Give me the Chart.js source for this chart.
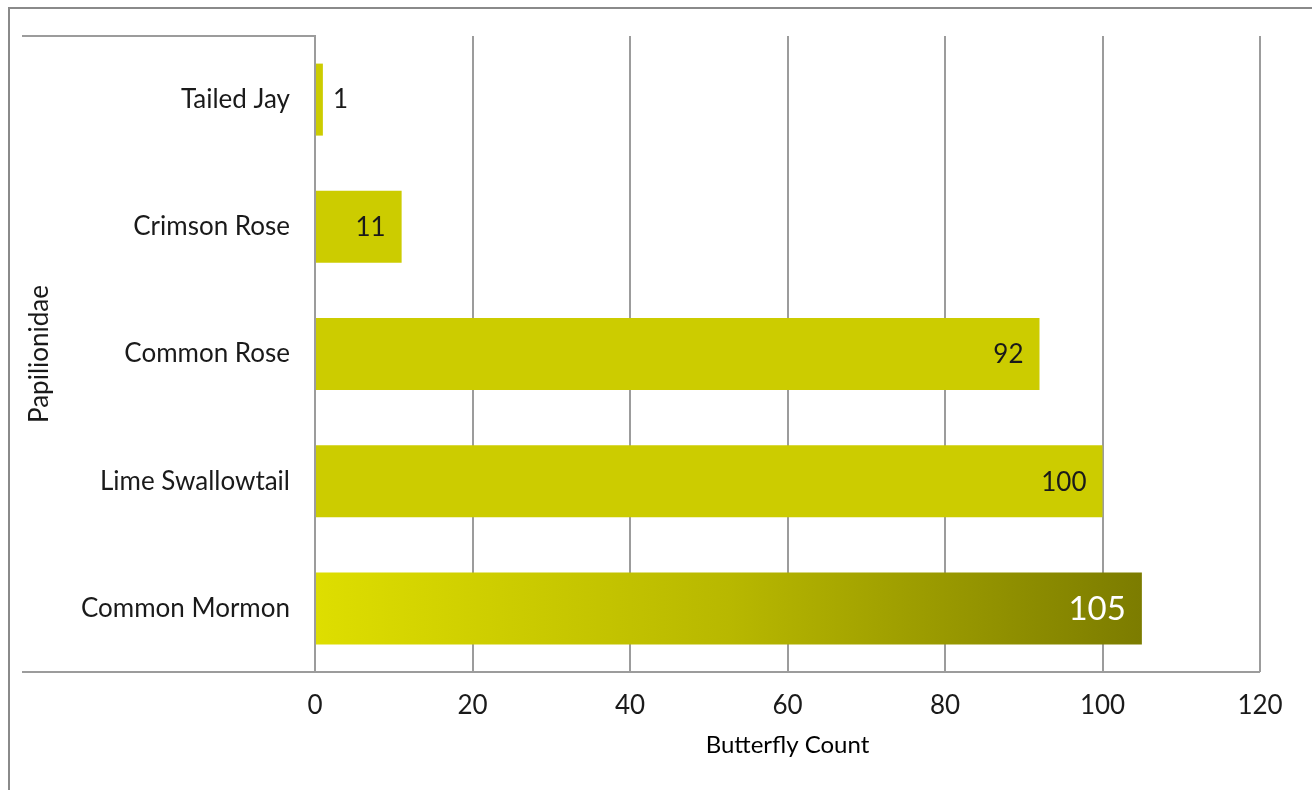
<!DOCTYPE html>
<html>
<head>
<meta charset="utf-8">
<script src="https://cdn.jsdelivr.net/npm/chart.js@4.4.1/dist/chart.umd.min.js"></script>
<style>
  html, body { margin: 0; padding: 0; background: #fff; }
  #wrap { width: 1312px; height: 790px; position: relative; }
</style>
</head>
<body>
<div id="wrap"><canvas id="papilionidae"></canvas></div>
<script>
  // data
  var species = ['Tailed Jay', 'Crimson Rose', 'Common Rose', 'Lime Swallowtail', 'Common Mormon'];
  var counts = [1, 11, 92, 100, 105];
  var countTicks = [0, 20, 40, 60, 80, 100, 120];

  var barColor = '#cccc00';
  var lineColor = '#9c9c9c';
  var fontFamily = 'Lato, "Open Sans", sans-serif';

  function barFill(ctx) {
    var chart = ctx.chart;
    if (ctx.dataIndex !== counts.length - 1 || !chart.chartArea) { return barColor; }
    var x = chart.scales.x;
    var g = chart.ctx.createLinearGradient(x.getPixelForValue(0), 0, x.getPixelForValue(counts[ctx.dataIndex]), 0);
    g.addColorStop(0, '#dede00');
    g.addColorStop(0.5, '#b8b800');
    g.addColorStop(1, '#7c7c00');
    return g;
  }

  // outer frame + extended category axis lines
  var framePlugin = {
    id: 'frame',
    beforeDraw: function (chart) {
      var c = chart.ctx, a = chart.chartArea;
      c.save();
      c.strokeStyle = '#8a8a8a';
      c.lineWidth = 2;
      c.beginPath();
      c.moveTo(9, chart.height);
      c.lineTo(9, 8);
      c.lineTo(chart.width, 8);
      c.stroke();
      c.strokeStyle = lineColor;
      c.beginPath();
      c.moveTo(22, a.top);
      c.lineTo(a.left, a.top);
      c.moveTo(22, a.bottom);
      c.lineTo(a.right, a.bottom);
      c.stroke();
      c.restore();
    }
  };

  // value labels at the bar ends
  var labelPlugin = {
    id: 'barLabels',
    afterDatasetsDraw: function (chart) {
      var c = chart.ctx;
      var meta = chart.getDatasetMeta(0);
      c.save();
      c.textBaseline = 'middle';
      meta.data.forEach(function (bar, i) {
        var v = counts[i];
        var last = i === counts.length - 1;
        c.font = (last ? 33 : 26) + 'px ' + fontFamily;
        c.fillStyle = last ? '#ffffff' : '#1a1a1a';
        if (v < 5) {
          c.textAlign = 'left';
          c.fillText(String(v), bar.x + 10, bar.y);
        } else {
          c.textAlign = 'right';
          c.fillText(String(v), bar.x - 16, bar.y + 1);
        }
      });
      c.restore();
    }
  };

  new Chart(document.getElementById('papilionidae'), {
    type: 'bar',
    data: {
      labels: species,
      datasets: [{
        data: counts,
        backgroundColor: barFill,
        borderWidth: 0,
        barPercentage: 0.566,
        categoryPercentage: 1
      }]
    },
    options: {
      indexAxis: 'y',
      responsive: true,
      maintainAspectRatio: false,
      animation: false,
      layout: { padding: { top: 36, right: 52, left: 0, bottom: 0 } },
      scales: {
        x: {
          min: 0,
          max: 120,
          afterBuildTicks: function (scale) {
            scale.ticks = countTicks.map(function (v) { return { value: v }; });
          },
          afterFit: function (scale) { scale.height = 118; },
          grid: { color: lineColor, lineWidth: 2, drawTicks: false },
          border: { display: false },
          ticks: {
            padding: 18,
            color: '#1a1a1a',
            font: { family: fontFamily, size: 26 }
          },
          title: {
            display: true,
            text: 'Butterfly Count',
            color: '#000',
            padding: { top: 0, bottom: 30 },
            font: { family: fontFamily, size: 24 }
          }
        },
        y: {
          afterFit: function (scale) { scale.width = 315; },
          grid: { display: false },
          border: { display: true, color: lineColor, width: 2 },
          ticks: {
            padding: 17,
            color: '#1a1a1a',
            font: { family: fontFamily, size: 26 }
          },
          title: {
            display: true,
            text: 'Papilionidae',
            color: '#1a1a1a',
            padding: { top: 24, bottom: 0 },
            font: { family: fontFamily, size: 26 }
          }
        }
      },
      plugins: {
        legend: { display: false },
        tooltip: { enabled: false }
      }
    },
    plugins: [framePlugin, labelPlugin]
  });
</script>
</body>
</html>
